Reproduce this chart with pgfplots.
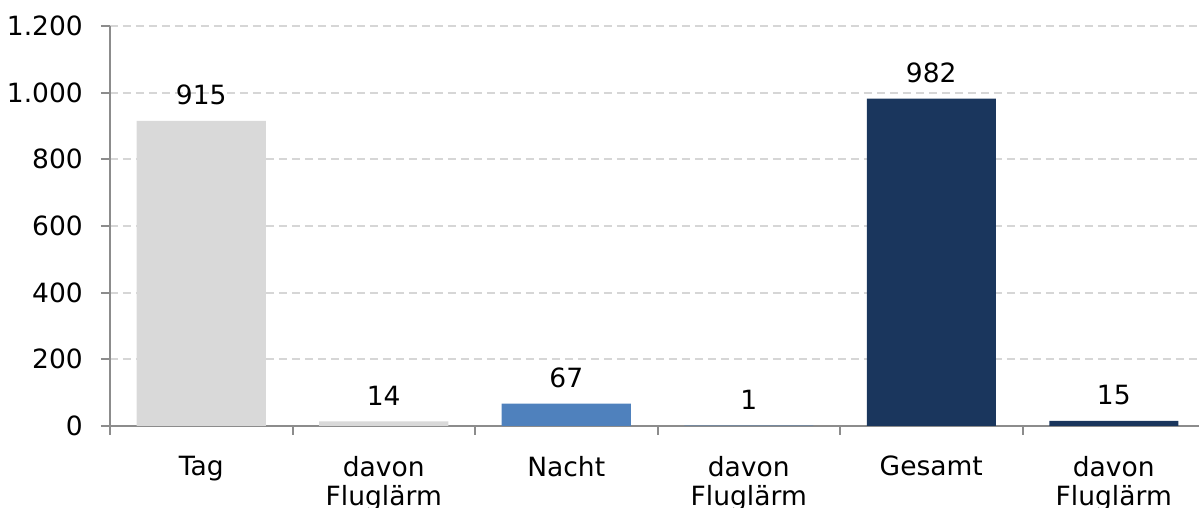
\documentclass[border=0pt]{standalone}
\usepackage{fontspec}
\setmainfont{DejaVu Sans}
\usepackage{pgfplots}
\pgfplotsset{compat=1.18}

\definecolor{barGrey}{HTML}{D9D9D9}
\definecolor{barBlue}{HTML}{4F81BD}
\definecolor{barNavy}{HTML}{1A365D}
\definecolor{axisGrey}{HTML}{8C8C8C}
\definecolor{gridGrey}{HTML}{D6D6D6}

\newcommand{\chartfont}{\fontsize{26.5}{29}\selectfont}

\begin{document}
\begin{tikzpicture}
    \begin{axis}[
        scale only axis,
        width=1089pt,
        height=400pt,
        xmin=-0.5, xmax=5.467,
        ymin=0, ymax=1200,
        ybar,
        bar width=0.707,
        bar shift=0pt,
        axis x line*=bottom,
        axis y line*=left,
        axis line style={draw=axisGrey, line width=2pt, -},
        ytick={0,200,...,1200},
        xtick={0,...,5},
        xticklabels={Tag, davon\\Fluglärm, Nacht, davon\\Fluglärm, Gesamt, davon\\Fluglärm},
        minor xtick={-0.5,0.5,1.5,2.5,3.5,4.5},
        tick align=outside,
        major tick length=9pt,
        minor tick length=9pt,
        x tick style={draw=none},
        minor x tick style={draw=axisGrey, line width=2pt},
        y tick style={draw=axisGrey, line width=2pt},
        ymajorgrids,
        major grid style={draw=gridGrey, line width=2pt, dash pattern=on 8pt off 5pt},
        /pgf/number format/assume math mode=true,
        /pgf/number format/1000 sep={.},
        ticklabel style={font=\chartfont},
        yticklabel style={inner sep=0pt, xshift=-18pt},
        xticklabel style={inner sep=0pt, align=center, yshift=-21pt},
        nodes near coords,
        every node near coord/.append style={font=\chartfont, inner sep=0pt, anchor=south, yshift=16pt, text=black},
        clip=false,
    ]
    \addplot[fill=barGrey, draw=none] coordinates {(0,915) (1,14)};
    \addplot[fill=barBlue, draw=none] coordinates {(2,67) (3,1)};
    \addplot[fill=barNavy, draw=none] coordinates {(4,982) (5,15)};
    \end{axis}
    \pgfresetboundingbox
    \path[use as bounding box] ([xshift=-110pt, yshift=-82pt]current axis.south west) rectangle ([yshift=26pt]current axis.north east);
\end{tikzpicture}
\end{document}
